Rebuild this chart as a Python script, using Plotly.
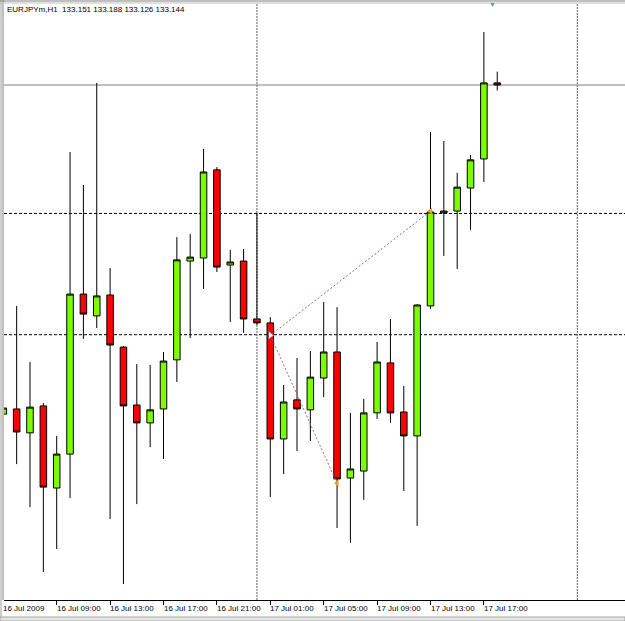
import plotly.graph_objects as go

# ---- data ----
bars = list(range(38))
open_ = [132.058, 132.075, 131.996, 132.085, 131.814, 131.926, 132.454, 132.382, 132.451, 132.279,
         132.088, 132.029, 132.075, 132.237, 132.563, 132.573, 132.864, 132.550, 132.563, 132.372,
         132.359, 131.976, 132.105, 132.072, 132.177, 132.263, 131.847, 131.870, 132.062, 132.227,
         132.065, 131.986, 132.415, 132.722, 132.728, 132.804, 132.900, 133.151]
high = [132.180, 132.415, 132.230, 132.095, 131.986, 132.923, 132.814, 133.151, 132.540, 132.283,
        132.223, 132.220, 132.263, 132.642, 132.652, 132.933, 132.873, 132.600, 132.603, 132.722,
        132.378, 132.154, 132.243, 132.266, 132.428, 132.411, 132.062, 132.108, 132.296, 132.372,
        132.151, 132.421, 132.989, 132.959, 132.854, 132.913, 133.319, 133.188]
low = [131.900, 131.893, 131.751, 131.537, 131.613, 131.781, 132.306, 132.342, 131.712, 131.497,
       131.761, 131.949, 131.910, 132.164, 132.309, 132.471, 132.527, 132.362, 132.326, 132.352,
       131.784, 131.860, 131.936, 131.969, 132.114, 131.682, 131.633, 131.775, 132.042, 132.029,
       131.804, 131.689, 132.405, 132.580, 132.537, 132.666, 132.824, 133.126]
close = [132.078, 131.999, 132.081, 131.817, 131.926, 132.454, 132.388, 132.448, 132.286, 132.085,
         132.029, 132.072, 132.233, 132.567, 132.576, 132.857, 132.543, 132.560, 132.372, 132.359,
         131.976, 132.098, 132.075, 132.180, 132.263, 131.844, 131.877, 132.062, 132.230, 132.062,
         131.986, 132.418, 132.725, 132.728, 132.807, 132.897, 133.151, 133.144]

tick_idx = [0, 4, 8, 12, 16, 20, 24, 28, 32, 36]
tick_text = ["16 Jul 2009", "16 Jul 09:00", "16 Jul 13:00", "16 Jul 17:00", "16 Jul 21:00",
             "17 Jul 01:00", "17 Jul 05:00", "17 Jul 09:00", "17 Jul 13:00", "17 Jul 17:00"]
day_sep = [19, 43]
grid_prices = [132.72, 132.32]
bid_price = 133.144
header = "EURJPYm,H1\u00a0 133.151 133.188 133.126 133.144"

trade_entry_x = [20]
trade_entry_y = [132.318]
trade_exit_x = [32, 25]
trade_exit_y = [132.728, 131.830]

# ---- layout helpers ----
W, H = 625, 621
ML, MR, MT, MB = 4, 0, 3, 21
PW, PH = W - ML - MR, H - MT - MB
X0, X1 = 0.052, 46.57
BAR_PX = PW / (X1 - X0)


def py(ypx):
    return (H - MB - ypx) / PH


def px(xpx):
    return (xpx - ML) / PW


FONT = "Liberation Sans, Arial, sans-serif"

fig = go.Figure()

fig.add_trace(go.Candlestick(
    x=bars, open=open_, high=high, low=low, close=close,
    increasing=dict(line=dict(color="#000000", width=1), fillcolor="#7CFC00"),
    decreasing=dict(line=dict(color="#000000", width=1), fillcolor="#FF0000"),
    whiskerwidth=0, hoverinfo="skip", showlegend=False,
))

# trade lines
for ex, ey in zip(trade_exit_x, trade_exit_y):
    fig.add_trace(go.Scatter(
        x=[trade_entry_x[0], ex], y=[trade_entry_y[0], ey], mode="lines",
        line=dict(color="#A86868", width=1, dash="2px,2px"),
        hoverinfo="skip", showlegend=False,
    ))
fig.add_trace(go.Scatter(
    x=trade_entry_x, y=trade_entry_y, mode="markers",
    marker=dict(symbol="triangle-right", size=7, color="#FFFFFF",
                line=dict(color="#A06060", width=1)),
    hoverinfo="skip", showlegend=False,
))
fig.add_trace(go.Scatter(
    x=trade_exit_x, y=trade_exit_y, mode="markers",
    marker=dict(symbol="triangle-left", size=6, color="#F0A020",
                line=dict(color="#F0A020", width=0)),
    hoverinfo="skip", showlegend=False,
))

shapes = []
for gp in grid_prices:
    shapes.append(dict(type="line", xref="paper", yref="y", x0=0, x1=1, y0=gp, y1=gp,
                       line=dict(color="#000000", width=1, dash="3px,2px"), layer="below"))
for d in day_sep:
    shapes.append(dict(type="line", xref="x", yref="paper", x0=d, x1=d, y0=0, y1=1,
                       line=dict(color="#606060", width=1, dash="2px,1px"), layer="below"))
shapes.append(dict(type="line", xref="paper", yref="y", x0=0, x1=1, y0=bid_price, y1=bid_price,
                   line=dict(color="#808080", width=1), layer="below"))
# window borders
shapes.append(dict(type="line", xref="paper", yref="paper", x0=px(1), x1=px(1), y0=py(621), y1=py(0),
                   line=dict(color="#A0A0A0", width=1)))
shapes.append(dict(type="line", xref="paper", yref="paper", x0=px(3), x1=px(3), y0=py(600), y1=py(0),
                   line=dict(color="#808080", width=1)))
shapes.append(dict(type="line", xref="paper", yref="paper", x0=px(0), x1=px(625), y0=py(1), y1=py(1),
                   line=dict(color="#808080", width=1)))
shapes.append(dict(type="line", xref="paper", yref="paper", x0=px(0), x1=px(625), y0=py(3), y1=py(3),
                   line=dict(color="#C0C0C0", width=1)))
shapes.append(dict(type="rect", xref="paper", yref="paper", x0=px(0), x1=px(625), y0=py(621), y1=py(617),
                   fillcolor="#E4E4E4", line=dict(color="#A8A8A8", width=1)))

annotations = []
annotations.append(dict(text=header, xref="paper", yref="paper", x=px(5), y=py(10),
                        xanchor="left", yanchor="middle", showarrow=False,
                        font=dict(family=FONT, size=8, color="#000000")))
for ti, tt in zip(tick_idx, tick_text):
    annotations.append(dict(text=tt, xref="x", yref="paper", x=ti + 0.2, y=py(608),
                            xanchor="left", yanchor="middle", showarrow=False,
                            xshift=-2 - 0.2 * BAR_PX,
                            font=dict(family=FONT, size=8, color="#000000")))
annotations.append(dict(text="\u25BC", xref="paper", yref="paper", x=px(492), y=py(5),
                        xanchor="center", yanchor="middle", showarrow=False,
                        font=dict(family=FONT, size=7, color="#7890A0")))

fig.update_layout(
    width=W, height=H,
    margin=dict(l=ML, r=MR, t=MT, b=MB, pad=0),
    paper_bgcolor="#FFFFFF", plot_bgcolor="#FFFFFF",
    shapes=shapes, annotations=annotations,
    showlegend=False,
    xaxis=dict(range=[X0, X1], showgrid=False, zeroline=False,
               showline=True, linecolor="#000000", linewidth=1,
               tickmode="array", tickvals=tick_idx, ticktext=[""] * len(tick_idx),
               ticks="outside", ticklen=4, tickcolor="#000000", tickwidth=1,
               rangeslider=dict(visible=False), fixedrange=True),
    yaxis=dict(range=[131.4445, 133.4146], showgrid=False, zeroline=False,
               showticklabels=False, showline=False, ticks="", fixedrange=True),
)

fig.write_html("out.html")
